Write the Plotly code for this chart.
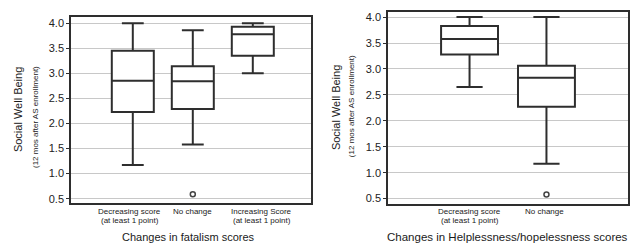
import plotly.graph_objects as go

# Left panel: Changes in fatalism scores
cats_left = [("Decreasing score", "(at least 1 point)"), ("No change", ""), ("Increasing Score", "(at least 1 point)")]
left_lower = [1.17, 1.58, 3.00]
left_q1 = [2.23, 2.29, 3.35]
left_median = [2.85, 2.84, 3.78]
left_q3 = [3.45, 3.14, 3.93]
left_upper = [4.00, 3.86, 4.00]
left_outlier_cat = [1]
left_outlier_val = [0.59]

# Right panel: Changes in Helplessness/hopelessness scores
cats_right = [("Decreasing score", "(at least 1 point)"), ("No change", "")]
right_lower = [2.65, 1.17]
right_q1 = [3.28, 2.27]
right_median = [3.58, 2.83]
right_q3 = [3.83, 3.06]
right_upper = [4.00, 4.00]
right_outlier_cat = [1]
right_outlier_val = [0.58]

yticks = [0.5, 1.0, 1.5, 2.0, 2.5, 3.0, 3.5, 4.0]

FONT = "Liberation Sans, Arial, sans-serif"
LINE = "#2e2e2e"
TXT = "#222222"

fig = go.Figure()
fig.add_trace(go.Box(
    x=list(range(len(cats_left))), q1=left_q1, median=left_median, q3=left_q3,
    lowerfence=left_lower, upperfence=left_upper,
    width=0.7, whiskerwidth=0.52, boxpoints=False,
    line=dict(color=LINE, width=2), fillcolor="white",
    xaxis="x", yaxis="y", showlegend=False))
fig.add_trace(go.Scatter(
    x=left_outlier_cat, y=left_outlier_val, mode="markers",
    marker=dict(symbol="circle-open", size=5, color="#444", line=dict(width=1.5)),
    xaxis="x", yaxis="y", showlegend=False))
fig.add_trace(go.Box(
    x=list(range(len(cats_right))), q1=right_q1, median=right_median, q3=right_q3,
    lowerfence=right_lower, upperfence=right_upper,
    width=0.74, whiskerwidth=0.46, boxpoints=False,
    line=dict(color=LINE, width=2), fillcolor="white",
    xaxis="x2", yaxis="y2", showlegend=False))
fig.add_trace(go.Scatter(
    x=right_outlier_cat, y=right_outlier_val, mode="markers",
    marker=dict(symbol="circle-open", size=5, color="#444", line=dict(width=1.5)),
    xaxis="x2", yaxis="y2", showlegend=False))

W, H = 635, 243
def px_x(p): return p / W
def px_y(p): return 1 - p / H

xcommon = dict(showgrid=False, zeroline=False, showline=True, mirror=True,
               linecolor=LINE, linewidth=1.5, ticks="", showticklabels=False)
ycommon = dict(showgrid=True, gridcolor="#c8c8c8", gridwidth=1, zeroline=False,
               showline=True, mirror=True, linecolor=LINE, linewidth=1.5,
               ticks="outside", ticklen=3, tickcolor=LINE,
               tickvals=yticks, tickformat=".1f",
               tickfont=dict(family=FONT, size=11, color=TXT))

fig.update_layout(
    width=W, height=H, margin=dict(l=0, r=0, t=0, b=0),
    paper_bgcolor="white", plot_bgcolor="white",
    xaxis=dict(xcommon, domain=[px_x(71), px_x(311)], range=[-1.03, 2.97], anchor="y"),
    yaxis=dict(ycommon, domain=[px_y(204), px_y(16)], range=[0.407, 4.125], anchor="x"),
    xaxis2=dict(xcommon, domain=[px_x(388), px_x(628)], range=[-1.06, 2.06], anchor="y2"),
    yaxis2=dict(ycommon, domain=[px_y(205), px_y(11)], range=[0.39, 4.10], anchor="x2"),
)

C = dict(xanchor="center", yanchor="middle", showarrow=False)
ann = []
# category labels (two lines each)
shifts_left = [-3, 0, 9]
for i, (l1, l2) in enumerate(cats_left):
    for txt, yy in [(l1, 212.5), (l2, 221)]:
        if txt:
            ann.append(dict(C, text=txt, x=i, xref="x", y=px_y(yy), yref="paper",
                            xshift=shifts_left[i],
                            font=dict(family=FONT, size=8, color=TXT)))
shifts_right = [0, -2]
for i, (l1, l2) in enumerate(cats_right):
    for txt, yy in [(l1, 212.5), (l2, 221)]:
        if txt:
            ann.append(dict(C, text=txt, x=i, xref="x2", y=px_y(yy), yref="paper",
                            xshift=shifts_right[i],
                            font=dict(family=FONT, size=8, color=TXT)))

ann.append(dict(C, text="Changes in fatalism scores", x=px_x(188), y=px_y(238),
                xref="paper", yref="paper",
                font=dict(family=FONT, size=11, color="#1a1a1a")))
ann.append(dict(C, text="Changes in Helplessness/hopelessness scores", x=px_x(507), y=px_y(237.5),
                xref="paper", yref="paper",
                font=dict(family=FONT, size=11.5, color="#1a1a1a")))
for xt, xs, yc, ys in [(18, 35, 110, 117), (336, 351, 108, 106)]:
    ann.append(dict(C, text="Social Well Being", x=px_x(xt), y=px_y(yc), textangle=-90,
                    xref="paper", yref="paper",
                    font=dict(family=FONT, size=11, color="#1a1a1a")))
    ann.append(dict(C, text="(12 mos after AS enrollment)", x=px_x(xs), y=px_y(ys), textangle=-90,
                    xref="paper", yref="paper",
                    font=dict(family=FONT, size=8, color=TXT)))
fig.update_layout(annotations=ann)

fig.write_html("out.html", config={"displayModeBar": False},
               post_script="document.body.style.margin='0';")
